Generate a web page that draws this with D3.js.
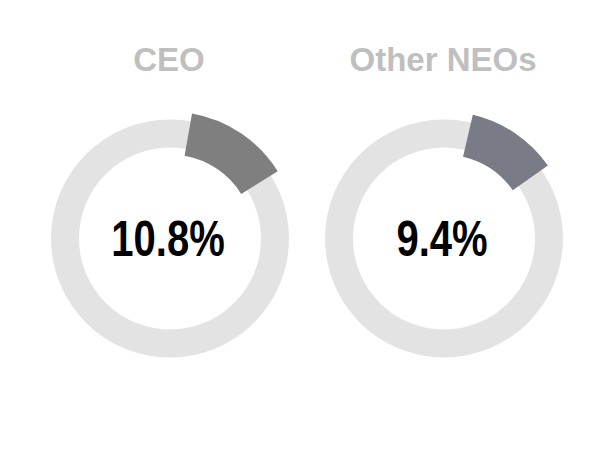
<!DOCTYPE html>
<html>
<head>
<meta charset="utf-8">
<script src="https://cdn.jsdelivr.net/npm/d3@7"></script>
<style>
  html, body { margin: 0; padding: 0; background: #fff; }
</style>
</head>
<body>
<div id="chart"></div>
<script>
// DATA
const groups = ["CEO", "Other NEOs"];
const values = [10.8, 9.4];
const sliceColors = ["#7f7f7f", "#797b86"];

// SETUP
const width = 614;
const height = 455;

const svg = d3.select("#chart")
    .append("svg")
    .attr("width", width)
    .attr("height", height)
    .attr("viewBox", [0, 0, width, height]);

// donut centres
const x = d3.scalePoint()
    .domain(groups)
    .range([170, 444]);

const cy = 238.5;

// slice size: percent -> angle (slice drawn around a fixed bisector)
const angle = d3.scaleLinear()
    .domain([0, 81])
    .range([0, 2 * Math.PI]);
const bisector = 34 * Math.PI / 180;

const ring = d3.arc()
    .innerRadius(91)
    .outerRadius(119)
    .startAngle(0)
    .endAngle(2 * Math.PI);

const slice = d3.arc()
    .innerRadius(84)
    .outerRadius(127)
    .startAngle(d => bisector - angle(d.value) / 2)
    .endAngle(d => bisector + angle(d.value) / 2);

const data = groups.map((g, i) => ({ group: g, value: values[i], color: sliceColors[i] }));

const donut = svg.selectAll("g.donut")
    .data(data)
    .join("g")
    .attr("class", "donut")
    .attr("transform", d => `translate(${x(d.group)}, ${cy})`);

// gray background ring
donut.append("path")
    .attr("d", ring)
    .attr("fill", "#e3e3e3");

// highlighted slice
donut.append("path")
    .attr("d", slice)
    .attr("fill", d => d.color);

// --- TITLES ---
svg.selectAll("text.title")
    .data(data)
    .join("text")
    .attr("class", "title")
    .attr("x", d => x(d.group) - 1)
    .attr("y", 71)
    .attr("text-anchor", "middle")
    .attr("font-family", "'Liberation Sans', Arial, sans-serif")
    .attr("font-weight", "bold")
    .attr("font-size", "33px")
    .attr("fill", "#bfbfbf")
    .text(d => d.group);

// --- CENTRE VALUES ---
donut.append("text")
    .attr("transform", "translate(-2, 17) scale(0.8, 1)")
    .attr("text-anchor", "middle")
    .attr("font-family", "'Liberation Sans', Arial, sans-serif")
    .attr("font-weight", "bold")
    .attr("font-size", "50px")
    .attr("fill", "#000")
    .text(d => d.value.toFixed(1) + "%");
</script>
</body>
</html>
